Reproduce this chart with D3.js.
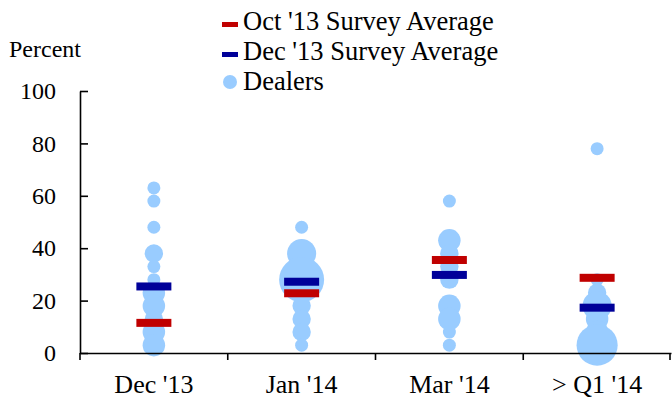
<!DOCTYPE html>
<html>
<head>
<meta charset="utf-8">
<script src="https://cdn.jsdelivr.net/npm/d3@7"></script>
<style>
  html, body { margin: 0; padding: 0; background: #fff; }
  svg { display: block; }
</style>
</head>
<body>
<svg id="chart" width="672" height="401"></svg>
<script>
// categories on the x axis
const categories = ["Dec '13", "Jan '14", "Mar '14", "> Q1 '14"];

// survey averages, percent
const octAverage = [11.5, 22.8, 35.5, 28.7];
const decAverage = [25.4, 27.2, 29.8, 17.3];

// dealer responses: [category index, percent, number of dealers]
const dealers = [
  [0, 63, 1], [0, 58, 1], [0, 48, 1], [0, 38, 2], [0, 33, 1], [0, 28, 1],
  [0, 23, 3], [0, 18, 3], [0, 13, 2], [0, 8, 3], [0, 3, 3],
  [1, 48, 1], [1, 38, 5], [1, 28, 12], [1, 18, 2], [1, 13, 2], [1, 8, 2], [1, 3, 1],
  [2, 58, 1], [2, 43, 3], [2, 38, 2], [2, 33, 2], [2, 28, 2], [2, 18, 3],
  [2, 13, 3], [2, 8, 1], [2, 3, 1],
  [3, 78, 1], [3, 28, 1], [3, 23, 2], [3, 18, 5], [3, 13, 3], [3, 8, 3], [3, 3, 10]
];

const yTicks = [0, 20, 40, 60, 80, 100];

const legendItems = [
  { label: "Oct '13 Survey Average", type: "bar", color: "#C00000" },
  { label: "Dec '13 Survey Average", type: "bar", color: "#000099" },
  { label: "Dealers", type: "dot", color: "#99CCFF" }
];

const FONT = "Liberation Serif";
const svg = d3.select("#chart");

const x = d3.scaleBand().domain(categories).range([80, 671]).padding(0);
const y = d3.scaleLinear().domain([0, 100]).range([353, 91]);
const r = d3.scaleSqrt().domain([0, 12]).range([0, 22.5]);

// dealer bubbles
svg.append("g")
  .selectAll("circle")
  .data(dealers)
  .join("circle")
  .attr("cx", d => x(categories[d[0]]) + x.bandwidth() / 2)
  .attr("cy", d => y(d[1]))
  .attr("r", d => r(d[2]))
  .attr("fill", "#99CCFF");

// average bars
const barW = 35, barH = 8;
function drawBars(values, color) {
  svg.append("g")
    .selectAll("rect")
    .data(values)
    .join("rect")
    .attr("x", (d, i) => x(categories[i]) + x.bandwidth() / 2 - barW / 2)
    .attr("y", d => y(d) - barH / 2)
    .attr("width", barW)
    .attr("height", barH)
    .attr("fill", color);
}
drawBars(octAverage, "#C00000");
drawBars(decAverage, "#000099");

// y axis, ticks pointing inward
const yAxis = svg.append("g")
  .attr("transform", "translate(80,0)")
  .call(d3.axisLeft(y).tickValues(yTicks).tickSize(-8).tickSizeOuter(0).tickPadding(24));
yAxis.attr("font-family", FONT).attr("font-size", 24);
yAxis.selectAll("text").attr("fill", "#000");
yAxis.selectAll("line, path").attr("stroke", "#000").attr("stroke-width", 1.6);

// x axis with ticks at category boundaries
const xAxis = svg.append("g")
  .attr("transform", `translate(0,${y(0)})`)
  .call(d3.axisBottom(x).tickSize(0).tickSizeOuter(0).tickPadding(22));
xAxis.attr("font-family", FONT).attr("font-size", 26);
xAxis.selectAll("text").attr("fill", "#000");
xAxis.select("path").attr("stroke", "#000").attr("stroke-width", 1.6);
xAxis.selectAll(".bound")
  .data([...categories.map(c => x(c)), x.range()[1] - 1])
  .join("line")
  .attr("class", "bound")
  .attr("x1", d => d).attr("x2", d => d)
  .attr("y1", 0).attr("y2", 7)
  .attr("stroke", "#000").attr("stroke-width", 1.6);

// axis title
svg.append("text")
  .attr("x", 9).attr("y", 56.5)
  .attr("font-family", FONT)
  .attr("font-size", 24)
  .text("Percent");

// legend
const legend = svg.append("g").attr("transform", "translate(222,0)");
const row = legend.selectAll("g")
  .data(legendItems)
  .join("g")
  .attr("transform", (d, i) => `translate(0,${30 + i * 30})`);
row.filter(d => d.type === "bar").append("rect")
  .attr("x", 0).attr("y", -8).attr("width", 16).attr("height", 5)
  .attr("fill", d => d.color);
row.filter(d => d.type === "dot").append("circle")
  .attr("cx", 8).attr("cy", -8).attr("r", 7)
  .attr("fill", d => d.color);
row.append("text")
  .attr("x", 21).attr("y", 0)
  .attr("font-family", FONT)
  .attr("font-size", 26.5)
  .text(d => d.label);
</script>
</body>
</html>
